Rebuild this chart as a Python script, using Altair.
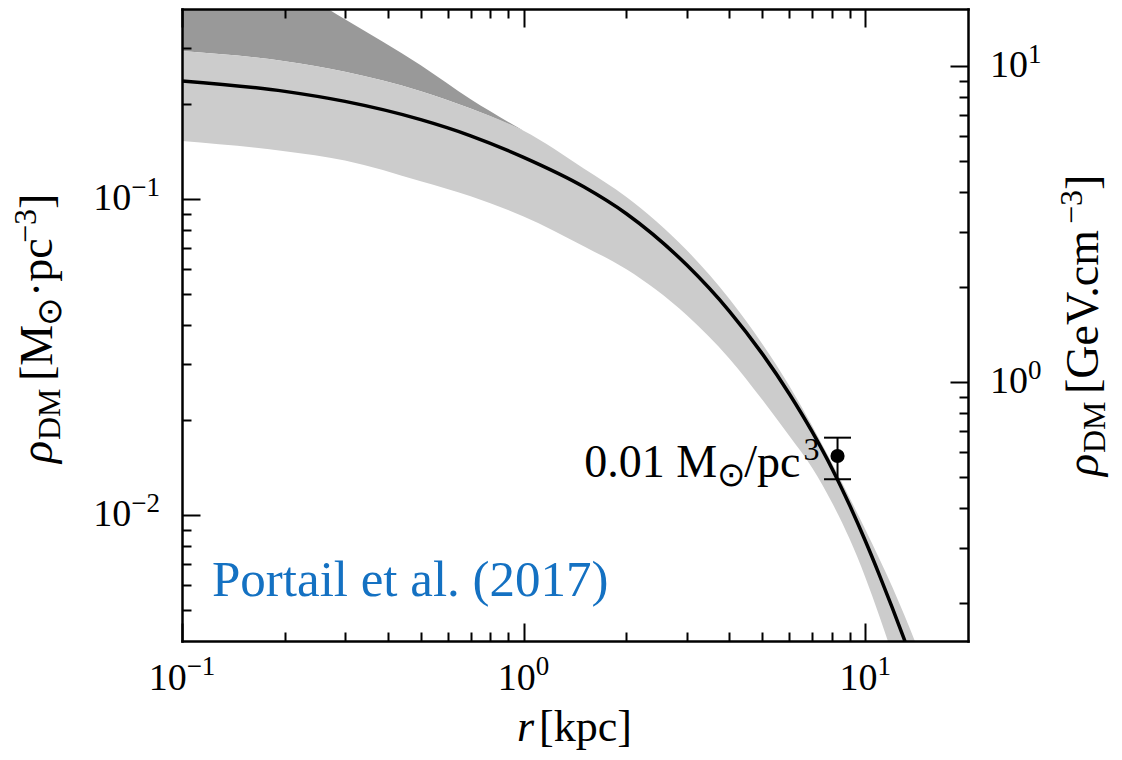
import altair as alt
import pandas as pd

# ---------------- data ----------------
# best-fit dark-matter density profile (black curve)
r_line = [0.1, 0.2, 0.3, 0.5, 0.7, 1, 1.5, 2, 3, 4, 5, 6, 7, 8, 9, 10, 11, 12, 13, 14]
rho_line = [0.2368, 0.2195, 0.2040, 0.1786, 0.1588, 0.1357, 0.1095, 0.0900, 0.0620,
            0.04427, 0.03241, 0.02420, 0.01835, 0.01404, 0.01077, 0.00832, 0.00648,
            0.00510, 0.00406, 0.00327]

# light-grey uncertainty band
r_band = [0.1, 0.2, 0.3, 0.5, 0.7, 1, 1.5, 2, 3, 4, 5, 6, 7, 8, 9, 10, 11, 12, 13, 14]
band_upper = [0.2945, 0.2733, 0.2533, 0.2198, 0.1936, 0.1648, 0.1252, 0.1017, 0.0691,
              0.04846, 0.03483, 0.02565, 0.01916, 0.0146, 0.01136, 0.00903, 0.00729,
              0.00594, 0.00485, 0.00398]
band_lower = [0.1529, 0.1419, 0.1327, 0.1141, 0.1023, 0.0882, 0.0710, 0.0600, 0.0430,
              0.03136, 0.02319, 0.0178, 0.01411, 0.01095, 0.00842, 0.00638, 0.0048,
              0.00364, 0.0028, 0.00218]

# dark-grey band
r_wide = [0.1, 0.2, 0.3, 0.5, 0.7, 1]
wide_upper = [0.75, 0.484, 0.3712, 0.2653, 0.2071, 0.1648]
wide_lower = [0.2945, 0.2733, 0.2533, 0.2198, 0.1936, 0.1648]

# local dark matter density measurement
local_r = [8.3]
local_rho = [0.0154]
local_lo = [0.0130]
local_hi = [0.0176]

# tick values and labels
x_major = [0.1, 1, 10]
x_major_exp = ["\u22121", "0", "1"]
x_minor = [0.2, 0.3, 0.4, 0.5, 0.6, 0.7, 0.8, 0.9, 2, 3, 4, 5, 6, 7, 8, 9]
y_major = [0.01, 0.1]
y_major_exp = ["\u22122", "\u22121"]
y_minor = [0.005, 0.006, 0.007, 0.008, 0.009, 0.02, 0.03, 0.04, 0.05, 0.06, 0.07,
           0.08, 0.09, 0.2, 0.3]
gev_major = [1, 10]
gev_major_exp = ["0", "1"]
gev_minor = [0.2, 0.3, 0.4, 0.5, 0.6, 0.7, 0.8, 0.9, 2, 3, 4, 5, 6, 7, 8, 9]

MSUN_PC3_IN_GEV_CM3 = 37.97
X_DOMAIN = [0.1, 20]
Y_DOMAIN = [0.004, 0.4]
G_DOMAIN = [Y_DOMAIN[0] * MSUN_PC3_IN_GEV_CM3, Y_DOMAIN[1] * MSUN_PC3_IN_GEV_CM3]

# ---------------- layout / style ----------------
W, H = 786, 632
FONT = "Liberation Serif"
SYM = "DejaVu Sans"
BLUE = "#1471c2"
TICK_FS = 38
SUP_FS = 27


def xs():
    return alt.Scale(type="log", domain=X_DOMAIN, nice=False)


def ys():
    return alt.Scale(type="log", domain=Y_DOMAIN, nice=False)


def gs():
    return alt.Scale(type="log", domain=G_DOMAIN, nice=False)


df_line = pd.DataFrame({"r": r_line, "rho": rho_line})
df_band = pd.DataFrame({"r": r_band, "hi": band_upper, "lo": band_lower})
df_wide = pd.DataFrame({"r": r_wide, "hi": wide_upper, "lo": wide_lower})
df_local = pd.DataFrame({"r": local_r, "rho": local_rho, "lo": local_lo, "hi": local_hi})

wide = alt.Chart(df_wide).mark_area(color="#999999", clip=True, interpolate="monotone").encode(
    x=alt.X("r:Q", scale=xs(), axis=None),
    y=alt.Y("hi:Q", scale=ys(), axis=None),
    y2="lo:Q",
)
band = alt.Chart(df_band).mark_area(color="#cccccc", clip=True, interpolate="monotone").encode(
    x=alt.X("r:Q", scale=xs(), axis=None),
    y=alt.Y("hi:Q", scale=ys(), axis=None),
    y2="lo:Q",
)
line = alt.Chart(df_line).mark_line(color="black", strokeWidth=3.5, clip=True,
                                     interpolate="monotone").encode(
    x=alt.X("r:Q", scale=xs(), axis=None),
    y=alt.Y("rho:Q", scale=ys(), axis=None),
)
err = alt.Chart(df_local).mark_rule(color="black", strokeWidth=2).encode(
    x=alt.X("r:Q", scale=xs(), axis=None),
    y=alt.Y("lo:Q", scale=ys(), axis=None),
    y2="hi:Q",
)
cap_lo = alt.Chart(df_local).mark_tick(color="black", orient="horizontal", size=27,
                                        thickness=2, opacity=1).encode(
    x=alt.X("r:Q", scale=xs(), axis=None),
    y=alt.Y("lo:Q", scale=ys(), axis=None),
)
cap_hi = alt.Chart(df_local).mark_tick(color="black", orient="horizontal", size=27,
                                        thickness=2, opacity=1).encode(
    x=alt.X("r:Q", scale=xs(), axis=None),
    y=alt.Y("hi:Q", scale=ys(), axis=None),
)
dot = alt.Chart(df_local).mark_circle(color="black", size=200, opacity=1).encode(
    x=alt.X("r:Q", scale=xs(), axis=None),
    y=alt.Y("rho:Q", scale=ys(), axis=None),
)


def data_text(txt, r, rho, size, align="left", color="black", font=FONT, style="normal"):
    d = pd.DataFrame({"r": [r], "rho": [rho], "t": [txt]})
    return alt.Chart(d).mark_text(align=align, baseline="alphabetic", font=font,
                                  fontSize=size, color=color, fontStyle=style).encode(
        x=alt.X("r:Q", scale=xs(), axis=None),
        y=alt.Y("rho:Q", scale=ys(), axis=None),
        text="t:N",
    )


annotations = [
    data_text("Portail et al. (2017)", 0.1224, 0.005541, 51, color=BLUE),
    data_text("0.01 M", 3.686, 0.01319, 46, align="right"),
    data_text("\u2299", 4.052, 0.01235, 34, align="center", font=SYM),
    data_text("/pc", 4.423, 0.01319, 46),
    data_text("3", 6.60, 0.01493, 32),
]


def px_text(txt, x, y, size, angle=0, font=FONT, style="normal", align="left"):
    d = pd.DataFrame({"t": [txt]})
    kw = dict(align=align, baseline="alphabetic", font=font, fontSize=size,
              color="black", fontStyle=style)
    if angle:
        kw["angle"] = angle
    return alt.Chart(d).mark_text(**kw).encode(
        x=alt.value(x), y=alt.value(y), text="t:N")


titles = [
    # x-axis title
    px_text("r", 335, 732, 44, style="italic"),
    px_text("[kpc]", 357, 732, 44),
    # left y-axis title (rotated)
    px_text("\u03c1", -130, 454, 46, angle=270, style="italic"),
    px_text("DM", -122, 431, 32, angle=270),
    px_text("[M", -130, 372, 46, angle=270),
    px_text("\u2299", -121, 317, 34, angle=270, font=SYM),
    px_text("\u00b7pc", -130, 288, 46, angle=270),
    px_text("\u22123", -146, 234, 32, angle=270),
    px_text("]", -130, 200, 46, angle=270),
    # right y-axis title (rotated)
    px_text("\u03c1", 916, 467, 46, angle=270, style="italic"),
    px_text("DM", 923, 444, 32, angle=270),
    px_text("[GeV.cm", 916, 385, 46, angle=270),
    px_text("\u22123", 900, 215, 32, angle=270),
    px_text("]", 916, 181, 46, angle=270),
]


# ---------------- tick labels (10 with a real superscript) ----------------
def sup_width(s):
    return sum((0.564 if ch == "\u2212" else 0.5) * SUP_FS for ch in s)


def x_tick_label(v, e):
    ws = sup_width(e)
    shift = (TICK_FS - ws) / 2
    d = pd.DataFrame({"r": [v], "a": ["10"], "b": [e]})
    base = alt.Chart(d).encode(x=alt.X("r:Q", scale=xs(), axis=None))
    main = base.mark_text(align="right", baseline="alphabetic", font=FONT,
                          fontSize=TICK_FS, color="black", dx=shift).encode(
        y=alt.value(H + 49), text="a:N")
    sup = base.mark_text(align="left", baseline="alphabetic", font=FONT,
                         fontSize=SUP_FS, color="black", dx=shift).encode(
        y=alt.value(H + 34), text="b:N")
    return [main, sup]


def y_tick_label(v, e, scale, x_main, left_side):
    d = pd.DataFrame({"v": [v], "a": ["10"], "b": [e]})
    base = alt.Chart(d).encode(y=alt.Y("v:Q", scale=scale, axis=None))
    if left_side:
        xm = x_main - sup_width(e)
        main = base.mark_text(align="right", baseline="alphabetic", font=FONT,
                              fontSize=TICK_FS, color="black", dy=11).encode(
            x=alt.value(xm), text="a:N")
        sup = base.mark_text(align="left", baseline="alphabetic", font=FONT,
                             fontSize=SUP_FS, color="black", dy=-3).encode(
            x=alt.value(xm), text="b:N")
    else:
        main = base.mark_text(align="left", baseline="alphabetic", font=FONT,
                              fontSize=TICK_FS, color="black", dy=11).encode(
            x=alt.value(x_main), text="a:N")
        sup = base.mark_text(align="left", baseline="alphabetic", font=FONT,
                             fontSize=SUP_FS, color="black", dy=-3).encode(
            x=alt.value(x_main + TICK_FS), text="b:N")
    return [main, sup]


tick_labels = []
for v, e in zip(x_major, x_major_exp):
    tick_labels += x_tick_label(v, e)
for v, e in zip(y_major, y_major_exp):
    tick_labels += y_tick_label(v, e, ys(), -22, True)
for v, e in zip(gev_major, gev_major_exp):
    tick_labels += y_tick_label(v, e, gs(), W + 22, False)

# ---------------- axes (matplotlib style: inward ticks, full frame) ----------------
dummy = pd.DataFrame({"x": [1.0], "y": [0.1], "g": [1.0]})

TICK = dict(grid=False, title=None, zindex=1, labels=False, domain=False,
            tickColor="black", tickWidth=2)
FRAME = dict(grid=False, title=None, zindex=1, labels=False, ticks=False, domain=True,
             domainColor="black", domainWidth=2.5, domainCap="square")


def ax_layer(xaxis, yaxis, yfield="y", yscale=None):
    return alt.Chart(dummy).mark_point(opacity=0).encode(
        x=alt.X("x:Q", scale=xs(), axis=xaxis),
        y=alt.Y(f"{yfield}:Q", scale=yscale if yscale is not None else ys(), axis=yaxis),
    )


x_frame_bottom = alt.Axis(orient="bottom", values=x_major, **FRAME)
y_frame_left = alt.Axis(orient="left", values=y_major, **FRAME)
g_frame_right = alt.Axis(orient="right", values=gev_major, **FRAME)
x_frame_top = alt.Axis(orient="bottom", offset=-H, values=x_major, **FRAME)

x_bot_major = alt.Axis(orient="top", offset=-H, values=x_major, tickSize=18, **TICK)
x_bot_minor = alt.Axis(orient="top", offset=-H, values=x_minor, tickSize=9, **TICK)
x_top_major = alt.Axis(orient="bottom", offset=-H, values=x_major, tickSize=18, **TICK)
x_top_minor = alt.Axis(orient="bottom", offset=-H, values=x_minor, tickSize=9, **TICK)
y_left_major = alt.Axis(orient="right", offset=-W, values=y_major, tickSize=18, **TICK)
y_left_minor = alt.Axis(orient="right", offset=-W, values=y_minor, tickSize=9, **TICK)
g_right_major = alt.Axis(orient="left", offset=-W, values=gev_major, tickSize=18, **TICK)
g_right_minor = alt.Axis(orient="left", offset=-W, values=gev_minor, tickSize=9, **TICK)

axes_layers = [
    ax_layer(x_frame_bottom, y_frame_left),
    ax_layer(x_bot_major, y_left_major),
    ax_layer(x_bot_minor, y_left_minor),
    ax_layer(x_top_major, g_frame_right, "g", gs()),
    ax_layer(x_top_minor, g_right_major, "g", gs()),
    ax_layer(x_frame_top, g_right_minor, "g", gs()),
]

chart = alt.layer(
    wide, band, line, err, cap_lo, cap_hi, dot, *annotations, *titles, *tick_labels,
    *axes_layers
).resolve_scale(
    x="independent", y="independent"
).resolve_axis(
    x="independent", y="independent"
).properties(
    width=W, height=H,
    autosize=alt.AutoSizeParams(type="none"),
    padding={"left": 174, "top": 1, "right": 146, "bottom": 111},
).configure_view(strokeWidth=0).configure(background="white")

chart.save("out.html", embed_options={"renderer": "svg", "actions": False})
